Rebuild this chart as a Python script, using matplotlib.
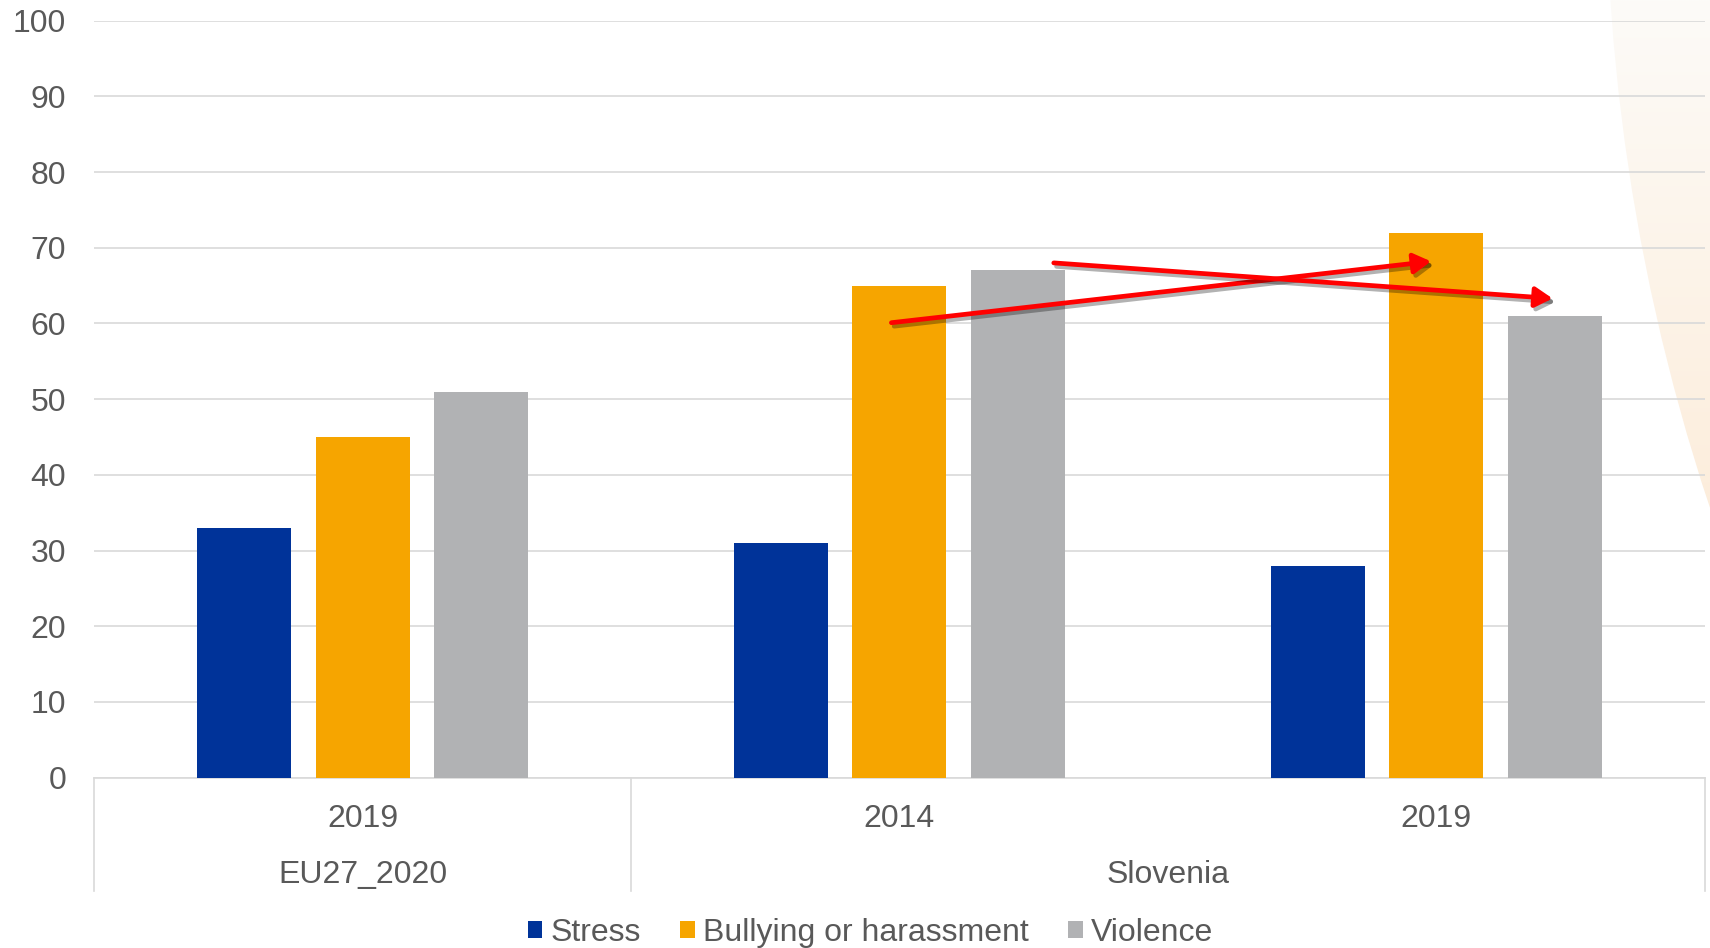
import numpy as np
import matplotlib
matplotlib.use("Agg")
import matplotlib.pyplot as plt
import matplotlib.patheffects as pe
from matplotlib.patches import Patch, Circle

plt.rcParams['font.family'] = ['Liberation Sans', 'DejaVu Sans']

# data
years = ['2019', '2014', '2019']
countries = ['EU27_2020', 'Slovenia']
country_span = [(0, 0), (1, 2)]      # which year slots belong to each country
series = ['Stress', 'Bullying or harassment', 'Violence']
stress = [33, 31, 28]
bullying = [45, 65, 72]
violence = [51, 67, 61]
colors = ['#003399', '#F6A500', '#B1B2B4']

text_col = '#595959'
grid_col = '#D9D9D9'
W, H = 1710, 948

fig = plt.figure(figsize=(W / 100, H / 100), dpi=100)

# faint gradient swoosh in the top right corner (pixel coordinates)
bg = fig.add_axes([0, 0, 1, 1], zorder=-1)
bg.set_xlim(0, W)
bg.set_ylim(H, 0)
bg.axis('off')
top = np.array([252, 251, 248]) / 255
bot = np.array([253, 237, 219]) / 255
t = np.linspace(0, 1, 256)[:, None]
grad = (top + (bot - top) * t)[:, None, :]
img = bg.imshow(grad, extent=[1550, W, 520, 0], aspect='auto', interpolation='bilinear')
swoosh = Circle((3640, -134), 2034, transform=bg.transData, facecolor='none', edgecolor='none')
bg.add_patch(swoosh)
img.set_clip_path(swoosh)

ax = fig.add_axes([0.055, 0.1797, 0.942, 0.7985])
ax.patch.set_alpha(0)

x = np.arange(len(years))
width = 0.175
step = 0.2214
for i, (vals, c) in enumerate(zip([stress, bullying, violence], colors)):
    ax.bar(x + (i - 1) * step, vals, width, color=c, zorder=3, label=series[i])

ax.set_ylim(0, 100)
ax.set_xlim(-0.5, len(years) - 0.5)
ax.set_yticks(range(0, 101, 10))
ax.tick_params(axis='y', length=0, pad=20, labelsize=23, labelcolor=text_col)
ax.set_xticks([])
ax.grid(axis='y', color=grid_col, linewidth=1.2, zorder=0)
for s in ['top', 'right', 'left']:
    ax.spines[s].set_visible(False)
ax.spines['bottom'].set_color(grid_col)
ax.spines['bottom'].set_linewidth(1.2)

# two-level category labels
tr = ax.get_xaxis_transform()
for xi, yr in zip(x, years):
    ax.text(xi, -0.0551, yr, transform=tr, ha='center', va='center',
            fontsize=23, color=text_col)
for name, (a, b) in zip(countries, country_span):
    ax.text((a + b) / 2, -0.129, name, transform=tr, ha='center', va='center',
            fontsize=23, color=text_col)
for sep in [-0.5, 0.5, 2.5]:
    ax.plot([sep, sep], [0, -0.1498], transform=tr, color=grid_col,
            linewidth=1.2, clip_on=False)

# red trend arrows
arrow_fx = [pe.SimpleLineShadow(offset=(2, -2.5), shadow_color='k', alpha=0.3), pe.Normal()]
arrows = [((x[1] - 0.015, bullying[1] - 4.9), (x[2] - 0.01, bullying[2] - 3.8)),
          ((x[1] + 0.066 + step, violence[1] + 1.0), (x[2] - 0.005 + step, violence[2] + 2.3))]
for start, end in arrows:
    ax.annotate('', xy=end, xytext=start,
                arrowprops=dict(arrowstyle='-|>,head_length=0.65,head_width=0.38',
                                mutation_scale=16, color='#FF0000', lw=3.4,
                                shrinkA=0, shrinkB=0, path_effects=arrow_fx),
                zorder=5)

handles = [Patch(facecolor=c, edgecolor='none') for c in colors]
fig.legend(handles, series, loc='center', bbox_to_anchor=(0.509, 0.016), ncol=3,
           frameon=False, fontsize=23, labelcolor=text_col, handlelength=0.45,
           handleheight=0.45, handletextpad=0.25, columnspacing=1.25, borderpad=0)

fig.savefig('out.png', dpi=100)
